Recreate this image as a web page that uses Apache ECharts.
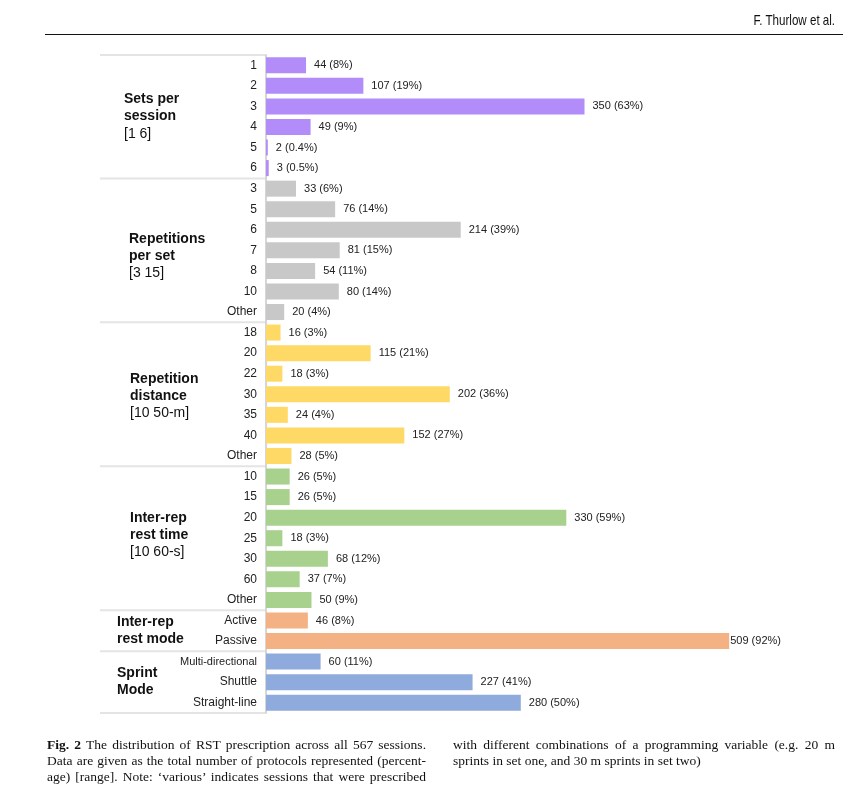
<!DOCTYPE html>
<html>
<head>
<meta charset="utf-8">
<script src="https://cdn.jsdelivr.net/npm/echarts@6/dist/echarts.min.js"></script>
<style>
  html, body { margin: 0; padding: 0; background: #fff; }
  #page { position: relative; width: 858px; height: 799px; overflow: hidden; }
  #chart { position: absolute; left: 0; top: 0; width: 858px; height: 799px; }
  .head { position: absolute; right: 23px; top: 12px; font-family: 'Liberation Sans', Arial, sans-serif; font-size: 14.5px; color: #111; transform: scaleX(0.8); transform-origin: right center; }
  .rule { position: absolute; left: 45px; width: 798px; top: 34px; height: 0; border-top: 1.5px solid #111; }
  .cap { position: absolute; top: 737px; font-family: 'Liberation Serif', 'DejaVu Serif', serif; font-size: 13.5px; line-height: 16px; color: #111; }
  .cap div { text-align: justify; text-align-last: justify; white-space: nowrap; }
  .cap div.last { text-align-last: left; }
  .cap.l { left: 47px; width: 379px; }
  .cap.r { left: 453px; width: 382px; }
</style>
</head>
<body>
<div id="page">
  <div id="chart"></div>
  <div class="head">F. Thurlow et al.</div>
  <div class="rule"></div>
  <div class="cap l">
    <div><b>Fig. 2</b> The distribution of RST prescription across all 567 sessions.</div>
    <div>Data are given as the total number of protocols represented (percent-</div>
    <div>age) [range]. Note: ‘various’ indicates sessions that were prescribed</div>
  </div>
  <div class="cap r">
    <div>with different combinations of a programming variable (e.g. 20 m</div>
    <div class="last">sprints in set one, and 30 m sprints in set two)</div>
  </div>
</div>
<script>
// data, one block per programming variable
var setsLabels = ['1', '2', '3', '4', '5', '6'];
var setsValues = [44, 107, 350, 49, 2, 3];
var setsPct = ['8%', '19%', '63%', '9%', '0.4%', '0.5%'];

var repsLabels = ['3', '5', '6', '7', '8', '10', 'Other'];
var repsValues = [33, 76, 214, 81, 54, 80, 20];
var repsPct = ['6%', '14%', '39%', '15%', '11%', '14%', '4%'];

var distLabels = ['18', '20', '22', '30', '35', '40', 'Other'];
var distValues = [16, 115, 18, 202, 24, 152, 28];
var distPct = ['3%', '21%', '3%', '36%', '4%', '27%', '5%'];

var restLabels = ['10', '15', '20', '25', '30', '60', 'Other'];
var restValues = [26, 26, 330, 18, 68, 37, 50];
var restPct = ['5%', '5%', '59%', '3%', '12%', '7%', '9%'];

var modeLabels = ['Active', 'Passive'];
var modeValues = [46, 509];
var modePct = ['8%', '92%'];

var sprintLabels = ['Multi-directional', 'Shuttle', 'Straight-line'];
var sprintValues = [60, 227, 280];
var sprintPct = ['11%', '41%', '50%'];

var groupTitles = [
  ['Sets per', 'session', '[1 6]'],
  ['Repetitions', 'per set', '[3 15]'],
  ['Repetition', 'distance', '[10 50-m]'],
  ['Inter-rep', 'rest time', '[10 60-s]'],
  ['Inter-rep', 'rest mode'],
  ['Sprint', 'Mode']
];

var groups = [
  { labels: setsLabels, values: setsValues, pct: setsPct, color: '#b28cf8' },
  { labels: repsLabels, values: repsValues, pct: repsPct, color: '#c8c8c8' },
  { labels: distLabels, values: distValues, pct: distPct, color: '#ffd966' },
  { labels: restLabels, values: restValues, pct: restPct, color: '#a9d18e' },
  { labels: modeLabels, values: modeValues, pct: modePct, color: '#f4b183' },
  { labels: sprintLabels, values: sprintValues, pct: sprintPct, color: '#8faadc' }
];

// layout of the group headings (left x, vertical nudge)
var titleX = [124, 129, 130, 130, 117, 117];
var titleDy = [0, 6, 2, -3, 0, -1];

var font = 'Liberation Sans, Arial, sans-serif';
var cats = [], rowLabels = [], barData = [], groupStart = [];
groups.forEach(function (g) {
  groupStart.push(rowLabels.length);
  g.labels.forEach(function (lab, i) {
    cats.push(String(rowLabels.length));
    rowLabels.push(lab);
    var item = {
      value: g.values[i],
      pct: g.pct[i],
      itemStyle: { color: g.color }
    };
    if (g.values[i] > 450) item.label = { distance: 1 };
    barData.push(item);
  });
});
groupStart.push(rowLabels.length);

var mycharts = echarts.init(document.getElementById('chart'));
var grid = { left: 266, top: 55, height: 658, width: 546 };
var options = {
  animation: false,
  grid: grid,
  xAxis: {
    type: 'value',
    min: 0,
    max: 600,
    show: false
  },
  yAxis: {
    type: 'category',
    inverse: true,
    data: cats,
    axisLine: { show: true, lineStyle: { color: '#d6d6d6', width: 2 } },
    axisTick: { show: false },
    axisLabel: {
      margin: 9,
      fontFamily: font,
      fontSize: 12,
      color: '#222',
      formatter: function (v, i) {
        var t = rowLabels[i];
        return t === 'Multi-directional' ? '{s|' + t + '}' : t;
      },
      rich: { s: { fontFamily: font, fontSize: 11, color: '#222' } }
    }
  },
  series: [{
    type: 'bar',
    data: barData,
    barCategoryGap: '22%',
    label: {
      show: true,
      position: 'right',
      distance: 8,
      fontFamily: font,
      fontSize: 11,
      color: '#222',
      formatter: function (p) {
        return p.value + ' (' + p.data.pct + ')';
      }
    }
  }]
};
mycharts.setOption(options);

// group separators and headings
var rowH = grid.height / rowLabels.length;
var graphics = [];
var axisX = grid.left - 1;
for (var k = 0; k < groupStart.length; k++) {
  var yb;
  if (k < groupStart.length - 1) {
    yb = mycharts.convertToPixel({ yAxisIndex: 0 }, String(groupStart[k])) - rowH / 2;
  } else {
    yb = mycharts.convertToPixel({ yAxisIndex: 0 }, String(groupStart[k] - 1)) + rowH / 2;
  }
  graphics.push({
    type: 'line',
    shape: { x1: 100, y1: yb, x2: axisX, y2: yb },
    style: { stroke: '#e4e4e4', lineWidth: 2 },
    silent: true
  });
}
groupTitles.forEach(function (t, k) {
  var c0 = mycharts.convertToPixel({ yAxisIndex: 0 }, String(groupStart[k]));
  var c1 = mycharts.convertToPixel({ yAxisIndex: 0 }, String(groupStart[k + 1] - 1));
  var txt = t.map(function (line, j) {
    return (j === 2 ? '{n|' : '{b|') + line + '}';
  }).join('\n');
  graphics.push({
    type: 'text',
    x: titleX[k],
    y: (c0 + c1) / 2 + titleDy[k],
    style: {
      text: txt,
      verticalAlign: 'middle',
      align: 'left',
      rich: {
        b: { fontFamily: font, fontSize: 14, fontWeight: 'bold', lineHeight: 17, fill: '#111' },
        n: { fontFamily: font, fontSize: 14, lineHeight: 18, fill: '#111' }
      }
    },
    silent: true
  });
});
mycharts.setOption({ graphic: graphics });
</script>
</body>
</html>
